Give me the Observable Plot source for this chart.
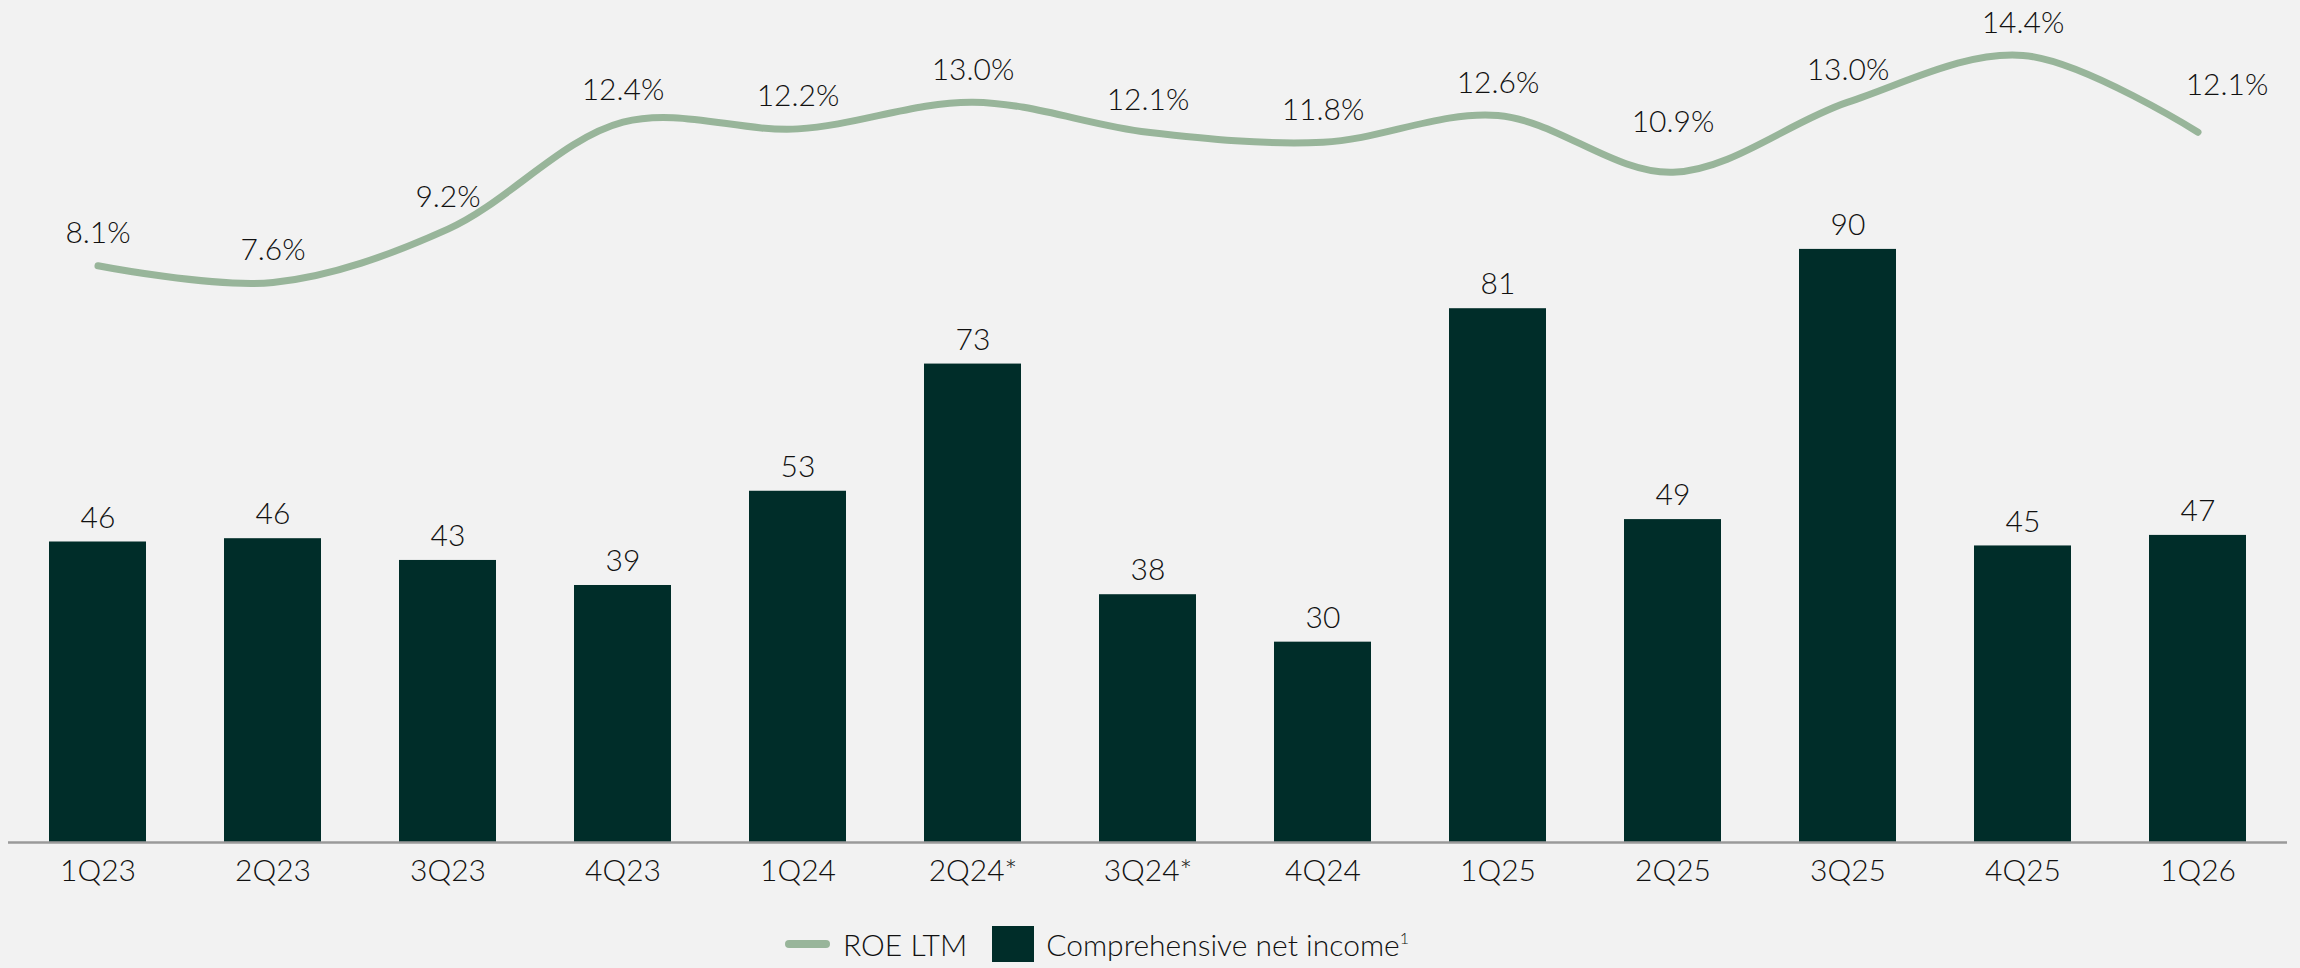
<!DOCTYPE html>
<html>
<head>
<meta charset="utf-8">
<script src="https://cdn.jsdelivr.net/npm/d3@7"></script>
<script src="https://cdn.jsdelivr.net/npm/@observablehq/plot@0.6"></script>
<style>
  html, body { margin: 0; padding: 0; background: #f2f2f2; }
  body { width: 2300px; height: 968px; overflow: hidden; font-family: "Lato Light", Lato, "Noto Sans", sans-serif; font-weight: 300; color: #111; }
  #chart svg text { font-weight: 300 !important; }
  #legend { display: flex; align-items: center; height: 48px; padding-left: 785px; font-size: 30px; white-space: nowrap; }
  .sw-line { width: 45px; height: 8px; border-radius: 4px; background: #98b59a; margin-right: 13px; }
  .sw-box { width: 42px; height: 36px; background: #002d29; margin-left: 25px; margin-right: 12px; }
  sup { font-size: 16px; vertical-align: 12px; }
</style>
</head>
<body>
<div id="chart"></div>
<div id="legend">
  <div class="sw-line"></div><span>ROE LTM</span>
  <div class="sw-box"></div><span>Comprehensive net income<sup>1</sup></span>
</div>
<script>
// ---- data ----
const quarters = ["1Q23","2Q23","3Q23","4Q23","1Q24","2Q24*","3Q24*","4Q24","1Q25","2Q25","3Q25","4Q25","1Q26"];
const netIncome = [45.6, 46.1, 42.8, 39.0, 53.3, 72.6, 37.6, 30.4, 81.0, 49.0, 90.0, 45.0, 46.6];
const roeLTM = [8.1, 7.6, 9.2, 12.4, 12.2, 13.0, 12.1, 11.8, 12.6, 10.9, 13.0, 14.4, 12.1];

const data = quarters.map((q, i) => ({q, ni: netIncome[i], roe: roeLTM[i]}));

// secondary (ROE) axis mapped onto the net-income scale
const roeOnBarScale = v => 46.46 + 5.068 * v;

const barColor = "#002d29";
const lineColor = "#98b59a";
const font = "'Lato Light', Lato, 'Noto Sans', sans-serif";

// labels nudged away from the curve, as in the original
const raisedLabel = new Set(["2Q25"]);
const endLabel = new Set(["1Q26"]);
const roeText = d => d.roe.toFixed(1) + "%";

const chart = Plot.plot({
  width: 2300,
  height: 920,
  marginLeft: 8,
  marginRight: 13,
  marginTop: 0,
  marginBottom: 78,
  style: { background: "#f2f2f2", fontFamily: font, fontSize: "30px", fontWeight: 300, color: "#111" },
  x: { type: "band", domain: quarters, paddingInner: 0.444, paddingOuter: 0.222, label: null },
  y: { domain: [0, 127.77], axis: null },
  marks: [
    Plot.barY(data, { x: "q", y: "ni", fill: barColor }),
    Plot.ruleY([0], { stroke: "#9a9a9a", strokeWidth: 2.5 }),
    Plot.axisX({ tickSize: 0, tickPadding: 17, fontSize: 30, label: null }),
    Plot.text(data, { x: "q", y: "ni", text: d => String(Math.round(d.ni)), dy: -24, fontSize: 30 }),
    Plot.line(data, { x: "q", y: d => roeOnBarScale(d.roe), curve: "catmull-rom", stroke: lineColor, strokeWidth: 7, strokeLinecap: "round", strokeLinejoin: "round" }),
    Plot.text(data.filter(d => !raisedLabel.has(d.q) && !endLabel.has(d.q)), { x: "q", y: d => roeOnBarScale(d.roe), text: roeText, dy: -32, fontSize: 30 }),
    Plot.text(data.filter(d => raisedLabel.has(d.q)), { x: "q", y: d => roeOnBarScale(d.roe), text: roeText, dy: -50, fontSize: 30 }),
    Plot.text(data.filter(d => endLabel.has(d.q)), { x: "q", y: d => roeOnBarScale(d.roe), text: roeText, dy: -47, dx: 29, fontSize: 30 })
  ]
});
document.getElementById("chart").appendChild(chart);
</script>
</body>
</html>
